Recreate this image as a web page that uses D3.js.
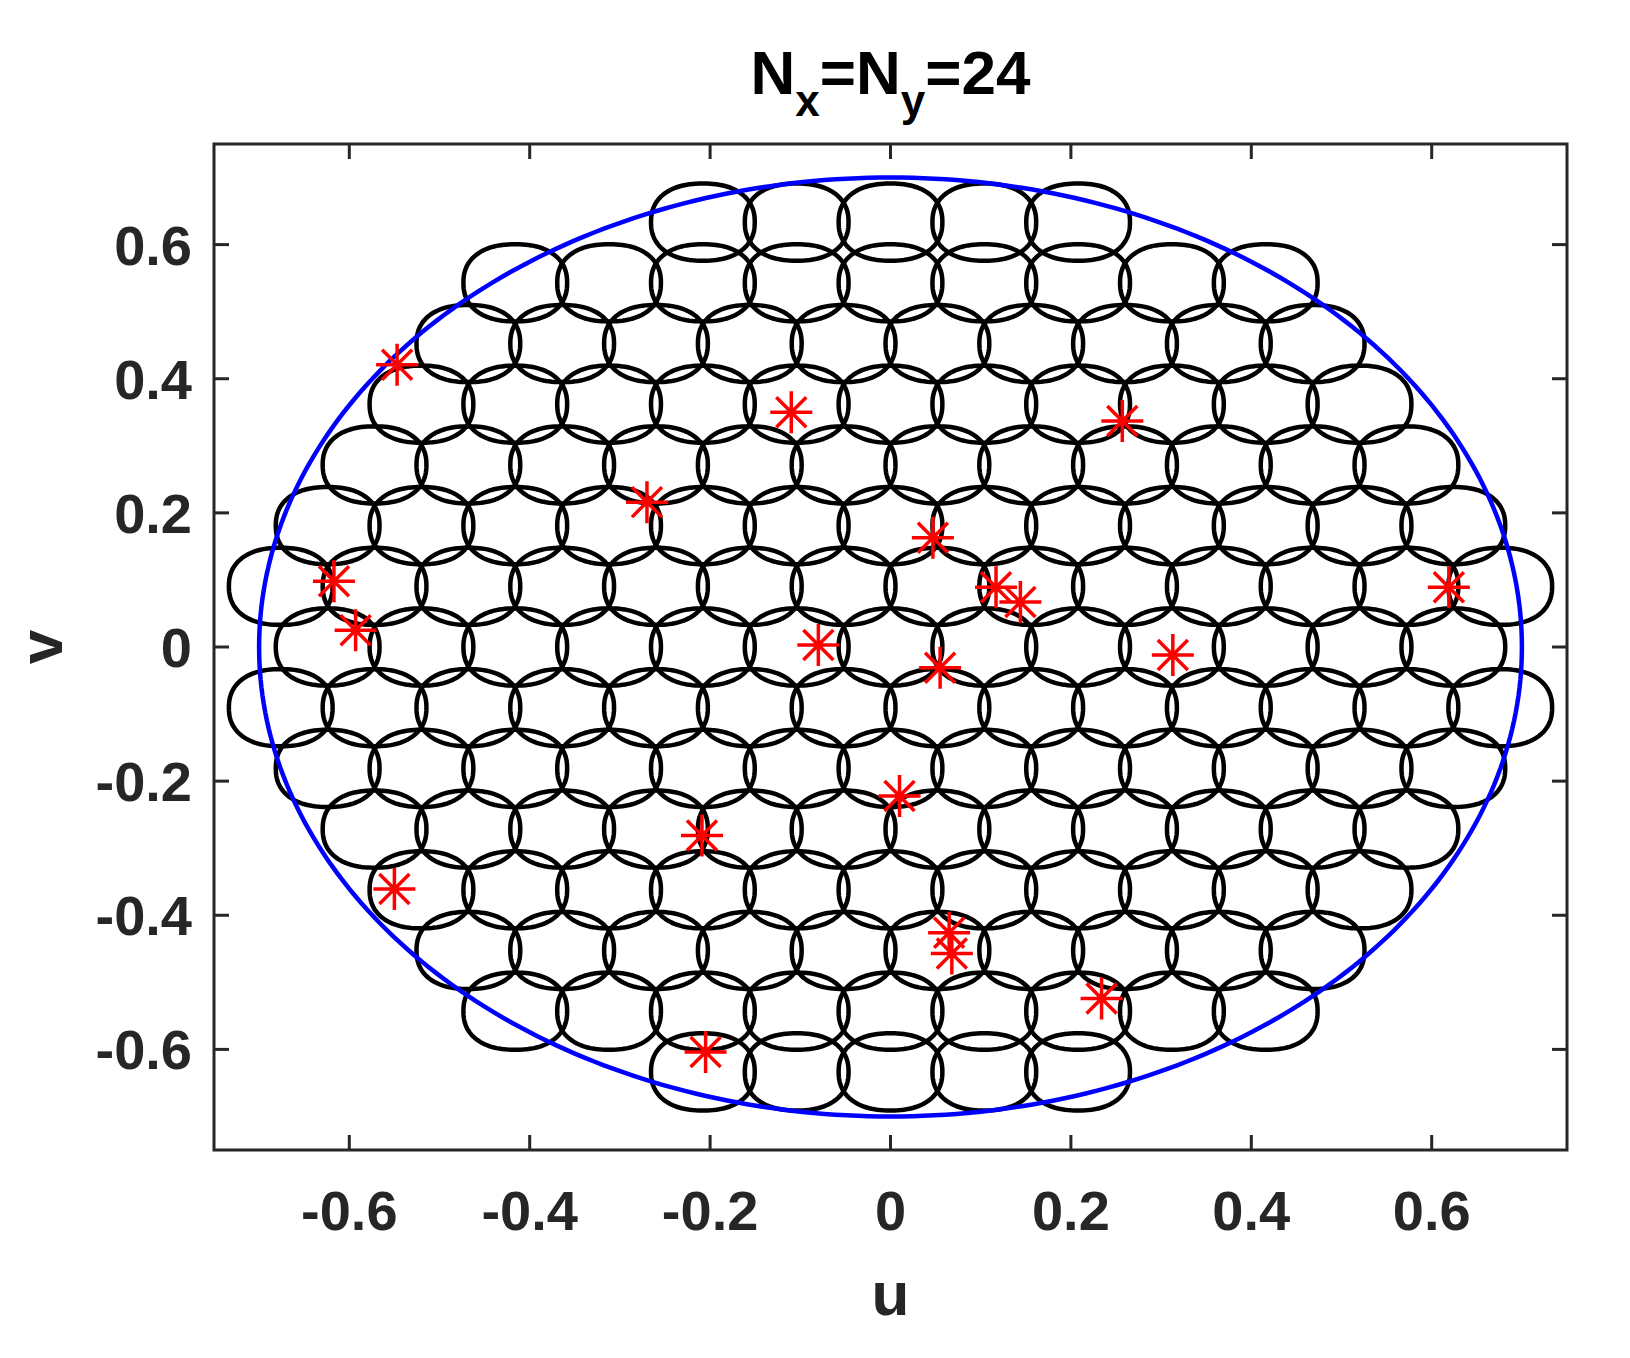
<!DOCTYPE html>
<html><head><meta charset="utf-8">
<script src="https://cdn.jsdelivr.net/npm/d3@7"></script>
<style>body{margin:0;background:#fff}</style>
</head><body>
<svg id="c" width="1630" height="1358"></svg>
<script>
// lattice: row index k (v = k*rowStep), half-step indices m (u = m*halfStep)
const rowStep = 0.0905, halfStep = 0.052, cellR = 0.0575;
const rowIndex =   [7, 6, 5, 4, 3, 2, 1, 0, -1, -2, -3, -4, -5, -6, -7];
const rowMinHalf = [-4,-8,-9,-10,-11,-12,-13,-12,-13,-12,-11,-10,-9,-8,-4];
const starU = [-0.547,-0.110,0.257,-0.270,0.047,-0.617,0.117,0.144,0.619,-0.593,-0.080,0.055,0.313,0.010,-0.209,-0.550,0.065,0.068,0.234,-0.205];
const starV = [0.421,0.350,0.337,0.216,0.163,0.098,0.089,0.067,0.089,0.025,0.003,-0.031,-0.012,-0.222,-0.281,-0.361,-0.426,-0.457,-0.524,-0.604];
const ticks = [-0.6,-0.4,-0.2,0,0.2,0.4,0.6];
const circleR = 0.7;

const svg = d3.select('#c');
const L=214,T=144,R=1567,B=1150;
const x = d3.scaleLinear().domain([-0.75,0.75]).range([L,R]);
const y = d3.scaleLinear().domain([-0.75,0.75]).range([B,T]);
const fmt = d=> d===0 ? '0' : d.toFixed(1);
const font = '"Liberation Sans", Arial, sans-serif';
const axc = '#262626';

// cells
const cells=[];
rowIndex.forEach((k,i)=>{ for(let m=rowMinHalf[i]; m<=-rowMinHalf[i]; m+=2) cells.push([m*halfStep,k*rowStep]); });
const nexp=2.3;
function cellPath(cu,cv){
  const pts=[];
  for(let i=0;i<=120;i++){const t=i/120*2*Math.PI, c=Math.cos(t), s=Math.sin(t);
    const px=Math.sign(c)*Math.pow(Math.abs(c),2/nexp), py=Math.sign(s)*Math.pow(Math.abs(s),2/nexp);
    pts.push([x(cu+cellR*px), y(cv+cellR*py)]);}
  return d3.line()(pts)+'Z';
}
const g = svg.append('g');
g.selectAll('path.cell').data(cells).join('path').attr('class','cell')
 .attr('d',d=>cellPath(d[0],d[1])).attr('fill','none').attr('stroke','#000').attr('stroke-width',4.5);

// blue circle
const cp=d3.range(0,361).map(a=>[x(circleR*Math.cos(a*Math.PI/180)),y(circleR*Math.sin(a*Math.PI/180))]);
svg.append('path').attr('d',d3.line()(cp)).attr('fill','none').attr('stroke','#0000ff').attr('stroke-width',4.5);

// stars
const s=21, s2=15;
starU.forEach((u,i)=>{
  const cx=x(u), cy=y(starV[i]);
  const p=`M${cx-s},${cy}H${cx+s}M${cx},${cy-s}V${cy+s}M${cx-s2},${cy-s2}L${cx+s2},${cy+s2}M${cx-s2},${cy+s2}L${cx+s2},${cy-s2}`;
  svg.append('path').attr('d',p).attr('stroke','#ff0000').attr('stroke-width',3.5).attr('fill','none');
});

// frame and ticks
svg.append('rect').attr('x',L).attr('y',T).attr('width',R-L).attr('height',B-T).attr('fill','none').attr('stroke',axc).attr('stroke-width',3);
const tl=15;
ticks.forEach(t=>{
  svg.append('line').attr('x1',x(t)).attr('x2',x(t)).attr('y1',B).attr('y2',B-tl).attr('stroke',axc).attr('stroke-width',3);
  svg.append('line').attr('x1',x(t)).attr('x2',x(t)).attr('y1',T).attr('y2',T+tl).attr('stroke',axc).attr('stroke-width',3);
  svg.append('line').attr('y1',y(t)).attr('y2',y(t)).attr('x1',L).attr('x2',L+tl).attr('stroke',axc).attr('stroke-width',3);
  svg.append('line').attr('y1',y(t)).attr('y2',y(t)).attr('x1',R).attr('x2',R-tl).attr('stroke',axc).attr('stroke-width',3);
  svg.append('text').attr('x',x(t)).attr('y',1230).attr('text-anchor','middle').attr('font-family',font).attr('font-weight','bold').attr('font-size',56).attr('fill',axc).text(fmt(t));
  svg.append('text').attr('x',192).attr('y',y(t)+20).attr('text-anchor','end').attr('font-family',font).attr('font-weight','bold').attr('font-size',56).attr('fill',axc).text(fmt(t));
});
svg.append('text').attr('x',x(0)).attr('y',1315).attr('text-anchor','middle').attr('font-family',font).attr('font-weight','bold').attr('font-size',62).attr('fill',axc).text('u');
svg.append('text').attr('transform',`translate(62,${y(0)}) rotate(-90)`).attr('text-anchor','middle').attr('font-family',font).attr('font-weight','bold').attr('font-size',62).attr('fill',axc).text('v');
const tt=svg.append('text').attr('x',x(0)).attr('y',94).attr('text-anchor','middle').attr('font-family',font).attr('font-weight','bold').attr('font-size',62).attr('fill','#000');
tt.append('tspan').text('N');
tt.append('tspan').attr('dy',22).attr('font-size',44).text('x');
tt.append('tspan').attr('dy',-22).text('=N');
tt.append('tspan').attr('dy',22).attr('font-size',44).text('y');
tt.append('tspan').attr('dy',-22).text('=24');
</script>
</body></html>
